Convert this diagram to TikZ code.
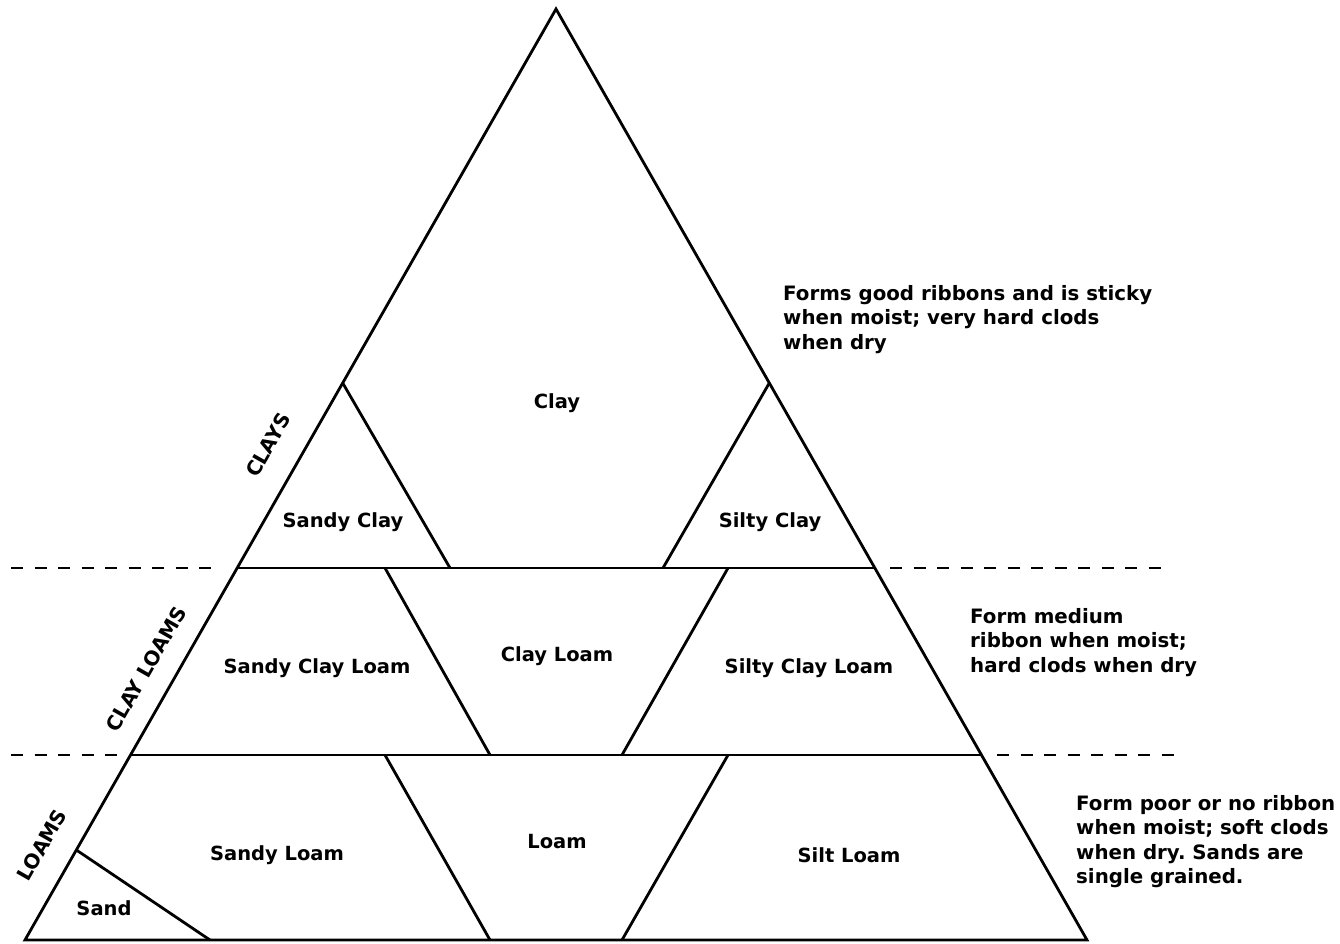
\documentclass[tikz,border=0pt]{standalone}
\usepackage{fontspec}
\setmainfont{DejaVu Sans}
\frenchspacing
\usetikzlibrary{calc}
\begin{document}
\begin{tikzpicture}[x=1pt,y=-1pt,
  edge/.style={line width=2.8pt,line join=miter},
  sep/.style={line width=2.8pt,dash pattern=on 12pt off 11.5pt},
  lbl/.style={font=\fontsize{19.5}{22}\selectfont\bfseries,inner sep=0pt},
  zone/.style={font=\fontsize{20}{22}\selectfont\bfseries,inner sep=0pt,rotate=60.3},
  note/.style={font=\fontsize{19.8}{24.5}\selectfont\bfseries,inner sep=0pt,align=left,anchor=north west}]
\useasboundingbox (0,0) rectangle (1340,944);
% main vertices
\coordinate (A) at (556,9);
\coordinate (L) at (25,940);
\coordinate (R) at (1087,940);
% points on the sides
\coordinate (L1) at ($(A)!0.4017!(L)$);
\coordinate (L2) at ($(A)!0.6004!(L)$);
\coordinate (L3) at ($(A)!0.8013!(L)$);
\coordinate (L4) at ($(A)!0.9033!(L)$);
\coordinate (R1) at ($(A)!0.4017!(R)$);
\coordinate (R2) at ($(A)!0.6004!(R)$);
\coordinate (R3) at ($(A)!0.8013!(R)$);
% inner points
\coordinate (a1) at (450,568);
\coordinate (a2) at (663,568);
\coordinate (b1) at (385,568);
\coordinate (b2) at (728,568);
\coordinate (c1) at (490,755);
\coordinate (c2) at (622,755);
\coordinate (d1) at (385,755);
\coordinate (d2) at (728,755);
\coordinate (e1) at (490,940);
\coordinate (e2) at (622,940);
\coordinate (e0) at (210,940);
% dashed ends
\coordinate (s1) at (11,568);
\coordinate (s2) at (216,568);
\coordinate (s3) at (890,568);
\coordinate (s4) at (1165,568);
\coordinate (t1) at (11,755);
\coordinate (t2) at (120,755);
\coordinate (t3) at (997,755);
\coordinate (t4) at (1175,755);

% outline
\draw[edge] (L) -- (A) -- (R) -- cycle;
\draw[edge] (L2) -- (R2);
\draw[edge] (L3) -- (R3);
\draw[edge] (L1) -- (a1);
\draw[edge] (R1) -- (a2);
\draw[edge] (b1) -- (c1);
\draw[edge] (b2) -- (c2);
\draw[edge] (d1) -- (e1);
\draw[edge] (d2) -- (e2);
\draw[edge] (L4) -- (e0);
% dashed separators
\draw[sep] (s1) -- (s2);
\draw[sep] (s3) -- (s4);
\draw[sep] (t1) -- (t2);
\draw[sep] (t3) -- (t4);

% region labels
\node[lbl] (clay) at (557,403) {Clay};
\node[lbl] (sclay) at (343,522) {Sandy Clay};
\node[lbl] (siclay) at (770,522) {Silty Clay};
\node[lbl] (scl) at (317,668) {Sandy Clay Loam};
\node[lbl] (cl) at (557,656) {Clay Loam};
\node[lbl] (sicl) at (809,668) {Silty Clay Loam};
\node[lbl] (sl) at (277,855) {Sandy Loam};
\node[lbl] (loam) at (557,842) {Loam};
\node[lbl] (sil) at (849,855) {Silt Loam};
\node[lbl] (sand) at (104,908) {Sand};
% zone labels
\node[zone] (zclays) at (268,445) {CLAYS};
\node[zone] (zcl) at (146,669) {CLAY LOAMS};
\node[zone] (zloams) at (42,845) {LOAMS};
% notes
\node[note] (n1) at (783,285) {Forms good ribbons and is sticky\\when moist; very hard clods\\when dry};
\node[note] (n2) at (970,608) {Form medium\\ribbon when moist;\\hard clods when dry};
\node[note] (n3) at (1076,795) {Form poor or no ribbon\\when moist; soft clods\\when dry. Sands are\\single grained.};
\end{tikzpicture}
\end{document}
